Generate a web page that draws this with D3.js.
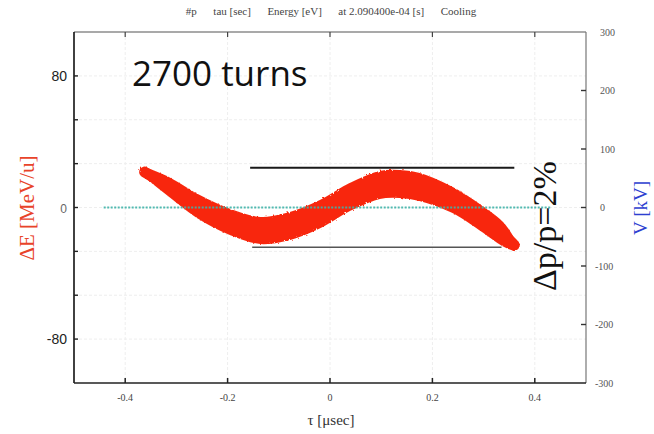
<!DOCTYPE html>
<html>
<head>
<meta charset="utf-8">
<script src="https://cdn.jsdelivr.net/npm/d3@7"></script>
<style>
  html, body { margin: 0; padding: 0; background: #fff; }
  svg { display: block; }
</style>
</head>
<body>
<svg id="chart" width="654" height="434"></svg>
<script>
// ---- data ----
const titleText = "#p      tau [sec]      Energy [eV]      at 2.090400e-04 [s]      Cooling";
const xTicks = [-0.4, -0.2, 0, 0.2, 0.4];
const xTickLabels = ["-0.4", "-0.2", "0", "0.2", "0.4"];
const yLeftTicks = [-80, -160/3, -80/3, 0, 80/3, 160/3, 80];
const yLeftLabels = { "-80": "-80", "0": "0", "80": "80" };
const yRightTicks = [-300, -200, -100, 0, 100, 200, 300];
const yRightLabels = ["-300", "-200", "-100", "0", "100", "200", "300"];

// particle band (tau in usec, dE in MeV/u): upper and lower edges
const bandTau   = [-0.362, -0.311, -0.259, -0.195, -0.136, -0.078, -0.019, 0.039, 0.097, 0.136, 0.175, 0.239, 0.292, 0.337, 0.360];
const bandUpper = [ 24.0,   17.3,    7.6,   -1.5,   -6.4,   -3.3,    4.0,  14.3,  21.6,  22.2,  20.4,  11.9,   1.5,  -9.4, -19.8];
const bandLower = [ 19.0,    6.4,   -5.8,  -16.1,  -21.6,  -19.1,  -11.9,  -1.5,   5.8,   6.4,   4.6,  -2.7, -13.1, -22.8, -25.9];

// RF voltage (kV)
const vTau  = [-0.442, 0.432];
const vVolt = [0, 0];

// momentum spread markers (dE in MeV/u)
const dpTopTau = [-0.156, 0.360];
const dpTopE   = [24.2, 24.2];
const dpBotTau = [-0.152, 0.335];
const dpBotE   = [-24.2, -24.2];

// ---- layout ----
const L = 74, R = 586, T = 32, B = 383;
const svg = d3.select("#chart");

const defs = svg.append("defs");
const f = defs.append("filter").attr("id", "rough").attr("x", "-5%").attr("y", "-20%").attr("width", "110%").attr("height", "140%");
f.append("feTurbulence").attr("type", "fractalNoise").attr("baseFrequency", 0.45).attr("numOctaves", 2).attr("seed", 3).attr("result", "n");
f.append("feDisplacementMap").attr("in", "SourceGraphic").attr("in2", "n").attr("scale", 3).attr("result", "d");
f.append("feGaussianBlur").attr("in", "d").attr("stdDeviation", 0.6);

const x  = d3.scaleLinear().domain([-0.5, 0.5]).range([L, R]);
const yL = d3.scaleLinear().domain([-106.7, 106.7]).range([B, T]);
const yR = d3.scaleLinear().domain([-300, 300]).range([B, T]);

// gridlines
const grid = svg.append("g").attr("stroke", "#eeeeee").attr("stroke-width", 1).attr("stroke-dasharray", "3,2");
xTicks.forEach(t => grid.append("line").attr("x1", x(t)).attr("x2", x(t)).attr("y1", T).attr("y2", B));
yLeftTicks.forEach(t => grid.append("line").attr("x1", L).attr("x2", R).attr("y1", yL(t)).attr("y2", yL(t)));

// title
svg.append("text").attr("x", 331).attr("y", 15).attr("text-anchor", "middle")
  .attr("font-family", "Liberation Serif, serif").attr("font-size", 11).attr("fill", "#444")
  .style("white-space", "pre").text(titleText);

// band
const band = bandTau.map((t, i) => ({ t, u: bandUpper[i], l: bandLower[i] }));
const bandG = svg.append("g").attr("filter", "url(#rough)");
const area = d3.area().x(d => x(d.t)).y0(d => yL(d.l)).y1(d => yL(d.u)).curve(d3.curveCatmullRom);
bandG.append("path").datum(band).attr("d", area)
  .attr("fill", "#f8280c").attr("stroke", "#f8280c").attr("stroke-width", 2).attr("stroke-linejoin", "round");
const mid = d3.line().x(d => x(d.t)).y(d => yL((d.u + d.l) / 2)).curve(d3.curveCatmullRom);
bandG.append("path").datum(band).attr("d", mid)
  .attr("fill", "none").attr("stroke", "#f8280c").attr("stroke-width", 11)
  .attr("stroke-linecap", "round").attr("stroke-linejoin", "round");

// voltage line
const vData = vTau.map((t, i) => ({ t, v: vVolt[i] }));
svg.append("path").datum(vData)
  .attr("d", d3.line().x(d => x(d.t)).y(d => yR(d.v)))
  .attr("stroke", "#3fb3a8").attr("stroke-width", 2).attr("stroke-dasharray", "2,1.5").attr("fill", "none").attr("opacity", 0.9);

// dp/p lines
const lineE = d3.line().x(d => x(d.t)).y(d => yL(d.e));
svg.append("path").datum(dpTopTau.map((t, i) => ({ t, e: dpTopE[i] })))
  .attr("d", lineE).attr("stroke", "#1a1a1a").attr("stroke-width", 2).attr("fill", "none");
svg.append("path").datum(dpBotTau.map((t, i) => ({ t, e: dpBotE[i] })))
  .attr("d", lineE).attr("stroke", "#555").attr("stroke-width", 1.6).attr("fill", "none");

// frame
svg.append("line").attr("x1", L).attr("x2", R).attr("y1", T).attr("y2", T).attr("stroke", "#555").attr("stroke-width", 1.2);
svg.append("line").attr("x1", R).attr("x2", R).attr("y1", T).attr("y2", B).attr("stroke", "#777").attr("stroke-width", 1.2);
svg.append("line").attr("x1", L).attr("x2", L).attr("y1", T).attr("y2", B).attr("stroke", "#111").attr("stroke-width", 1.6);
svg.append("line").attr("x1", L).attr("x2", R).attr("y1", B).attr("y2", B).attr("stroke", "#222").attr("stroke-width", 1.6);

// x ticks (bottom & top, inward)
xTicks.forEach((t, i) => {
  svg.append("line").attr("x1", x(t)).attr("x2", x(t)).attr("y1", B).attr("y2", B - 5).attr("stroke", "#222").attr("stroke-width", 1.5);
  svg.append("line").attr("x1", x(t)).attr("x2", x(t)).attr("y1", T).attr("y2", T + 5).attr("stroke", "#444").attr("stroke-width", 1.2);
  svg.append("text").attr("x", x(t)).attr("y", 401).attr("text-anchor", "middle")
    .attr("font-family", "Liberation Serif, serif").attr("font-size", 10).attr("fill", "#444").text(xTickLabels[i]);
});

// left ticks
yLeftTicks.forEach(t => {
  svg.append("line").attr("x1", L).attr("x2", L + 4).attr("y1", yL(t)).attr("y2", yL(t)).attr("stroke", "#222").attr("stroke-width", 1.4);
  const key = String(Math.round(t * 1000) / 1000);
  if (yLeftLabels[key] !== undefined) {
    svg.append("text").attr("x", 67).attr("y", yL(t) + 5).attr("text-anchor", "end")
      .attr("font-family", "Liberation Sans, Arial, sans-serif").attr("font-size", key === "0" ? 12 : 14)
      .attr("fill", key === "0" ? "#666" : "#222").text(yLeftLabels[key]);
  }
});

// right ticks
yRightTicks.forEach((t, i) => {
  if (Math.abs(t) < 300) {
    svg.append("line").attr("x1", R).attr("x2", R - 5).attr("y1", yR(t)).attr("y2", yR(t)).attr("stroke", "#333").attr("stroke-width", 1.4);
  }
  svg.append("text").attr("x", yRightLabels[i].startsWith("-") ? 595 : 600).attr("y", yR(t) + 3.5)
    .attr("font-family", "Liberation Serif, serif").attr("font-size", 10).attr("fill", "#555").text(yRightLabels[i]);
});

// axis labels
svg.append("text").attr("transform", "translate(34,208) rotate(-90)").attr("text-anchor", "middle")
  .attr("font-family", "Liberation Serif, serif").attr("font-size", 21).attr("fill", "#e8432a").text("ΔE [MeV/u]");
svg.append("text").attr("transform", "translate(647,208) rotate(-90)").attr("text-anchor", "middle")
  .attr("font-family", "Liberation Serif, serif").attr("font-size", 19).attr("fill", "#2e3fd0").text("V [kV]");
svg.append("text").attr("x", 331).attr("y", 425).attr("text-anchor", "middle")
  .attr("font-family", "Liberation Serif, serif").attr("font-size", 15).attr("fill", "#333").text("τ [μsec]");

// annotations
svg.append("text").attr("x", 132).attr("y", 86)
  .attr("font-family", "Open Sans, sans-serif").attr("font-size", 35).attr("fill", "#111").text("2700 turns");
svg.append("text").attr("transform", "translate(556,291) rotate(-90)")
  .attr("font-family", "Liberation Serif, serif").attr("font-size", 34).attr("fill", "#111").text("Δp/p=2%");
</script>
</body>
</html>
